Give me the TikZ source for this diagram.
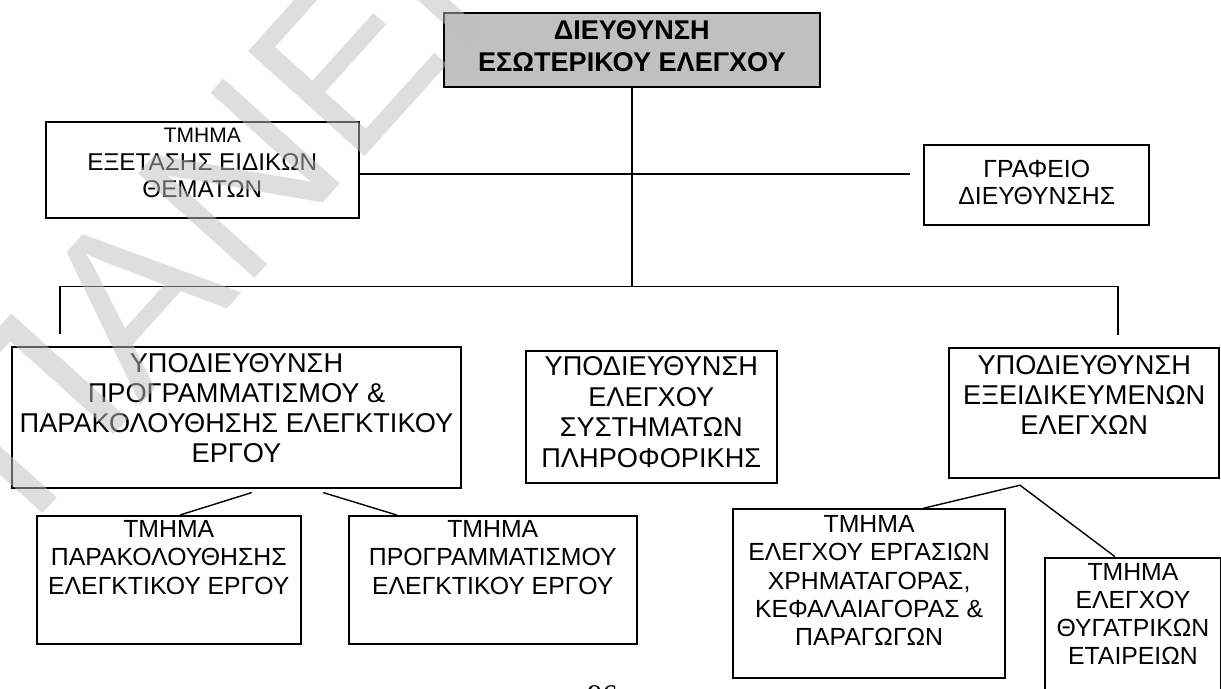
\documentclass[tikz,border=0pt]{standalone}
\usepackage{fontspec}
\setmainfont{Liberation Sans}
\newfontfamily\pagenumfont{Liberation Serif}
\usetikzlibrary{calc}

\definecolor{headgray}{RGB}{192,192,192}
\definecolor{wmgray}{RGB}{190,190,190}

% box text: width, height, first baseline from the top, font, lines
\newcommand{\orgtext}[5]{%
  \parbox[t][#2][t]{#1}{#4\centering\rule{0pt}{#3}#5\par}}

\tikzset{
  orgbox/.style={draw=black, line width=1.9bp, inner sep=0pt, anchor=north west},
  link/.style={line width=1.8bp},
  thinlink/.style={line width=1.4bp},
}

\begin{document}
\begin{tikzpicture}[x=1bp,y=-1bp]
\useasboundingbox (0,0) rectangle (1221,689);
\clip (0,0) rectangle (1221,689);
\fill[white] (0,0) rectangle (1221,689);

% head of the unit
\node[orgbox, fill=headgray] (dir) at (442.7,12.3)
  {\orgtext{376.3bp}{73.7bp}{25.9bp}{\bfseries\fontsize{27.1bp}{32bp}\selectfont}%
   {ΔΙΕΥΘΥΝΣΗ\\ΕΣΩΤΕΡΙΚΟΥ ΕΛΕΓΧΟΥ}};

% staff units
\node[orgbox] (tee) at (45,120.7)
  {\orgtext{312.7bp}{96.6bp}{21bp}{\fontsize{24.3bp}{27.5bp}\selectfont}%
   {{\fontsize{21bp}{24bp}\selectfont ΤΜΗΜΑ}\\ΕΞΕΤΑΣΗΣ ΕΙΔΙΚΩΝ\\ΘΕΜΑΤΩΝ}};
\node[orgbox] (graf) at (923.3,144)
  {\orgtext{225bp}{80bp}{32.7bp}{\fontsize{24.8bp}{27.3bp}\selectfont}%
   {ΓΡΑΦΕΙΟ\\ΔΙΕΥΘΥΝΣΗΣ}};

% sub-directorates
\node[orgbox] (subA) at (11,346)
  {\orgtext{449bp}{140.7bp}{25.7bp}{\fontsize{27.2bp}{30bp}\selectfont}%
   {ΥΠΟΔΙΕΥΘΥΝΣΗ\\ΠΡΟΓΡΑΜΜΑΤΙΣΜΟΥ \&\\ΠΑΡΑΚΟΛΟΥΘΗΣΗΣ ΕΛΕΓΚΤΙΚΟΥ\\ΕΡΓΟΥ}};
\node[orgbox] (subB) at (525,350)
  {\orgtext{250.7bp}{131.7bp}{25bp}{\fontsize{27.2bp}{30.5bp}\selectfont}%
   {ΥΠΟΔΙΕΥΘΥΝΣΗ\\ΕΛΕΓΧΟΥ\\ΣΥΣΤΗΜΑΤΩΝ\\ΠΛΗΡΟΦΟΡΙΚΗΣ}};
\node[orgbox] (subC) at (948.3,347.3)
  {\orgtext{270bp}{130bp}{26bp}{\fontsize{27.2bp}{30bp}\selectfont}%
   {ΥΠΟΔΙΕΥΘΥΝΣΗ\\\makebox[\linewidth]{ΕΞΕΙΔΙΚΕΥΜΕΝΩΝ}\\ΕΛΕΓΧΩΝ}};

% departments
\node[orgbox] (tpar) at (35.7,515)
  {\orgtext{264.3bp}{127.7bp}{21.7bp}{\fontsize{24.8bp}{28.3bp}\selectfont}%
   {ΤΜΗΜΑ\\ΠΑΡΑΚΟΛΟΥΘΗΣΗΣ\\ΕΛΕΓΚΤΙΚΟΥ ΕΡΓΟΥ}};
\node[orgbox] (tprog) at (347.7,515)
  {\orgtext{288.3bp}{127.7bp}{21.7bp}{\fontsize{24.8bp}{28.3bp}\selectfont}%
   {ΤΜΗΜΑ\\ΠΡΟΓΡΑΜΜΑΤΙΣΜΟΥ\\ΕΛΕΓΚΤΙΚΟΥ ΕΡΓΟΥ}};
\node[orgbox] (texch) at (732.3,508.3)
  {\orgtext{271.7bp}{168.4bp}{23.4bp}{\fontsize{24.8bp}{28.3bp}\selectfont}%
   {ΤΜΗΜΑ\\ΕΛΕΓΧΟΥ ΕΡΓΑΣΙΩΝ\\ΧΡΗΜΑΤΑΓΟΡΑΣ,\\ΚΕΦΑΛΑΙΑΓΟΡΑΣ \&\\ΠΑΡΑΓΩΓΩΝ}};
\node[orgbox] (tsub) at (1044,556.7)
  {\orgtext{176bp}{150bp}{23.3bp}{\fontsize{24.8bp}{28bp}\selectfont}%
   {ΤΜΗΜΑ\\ΕΛΕΓΧΟΥ\\ΘΥΓΑΤΡΙΚΩΝ\\ΕΤΑΙΡΕΙΩΝ}};

% connectors
\coordinate (hl) at (0,174.3);
\coordinate (grafgap) at ([xshift=-13.3bp]graf.west);
\draw[link] (tee.east |- hl) -- (grafgap |- hl);

\coordinate (busY) at (0,286.5);
\draw[link] (dir.south) -- ([yshift=-0.8bp]dir.south |- busY);
\coordinate (dropL) at ([shift={(49bp,12bp)}]subA.north west);
\coordinate (dropR) at ([shift={(-102.6bp,12.7bp)}]subC.north east);
\draw[link] (dropL) -- (dropL |- busY) -- (dropR |- busY) -- (dropR);

\draw[thinlink] ($(subA.south west)+(240.7,4)$) -- ($(tpar.north west)+(144.3,0)$);
\draw[thinlink] ($(subA.south west)+(312.3,4)$) -- ($(tprog.north west)+(49,0)$);
\draw[thinlink] ($(subC.south west)+(71.7,6)$) -- ($(texch.north west)+(191,0)$);
\draw[thinlink] ($(subC.south west)+(71.7,6)$) -- ($(tsub.north west)+(71,0)$);

% page number
\node[anchor=base, inner sep=0pt, font=\pagenumfont\fontsize{30bp}{30bp}\selectfont] (pg) at (602.3,705.3) {96};

% watermark
\node[rotate=48, anchor=base west, inner sep=0pt, text=wmgray, opacity=0.5,
      font=\fontsize{228bp}{228bp}\selectfont] (wm) at (30,528) {ΠΑΝΕΠ};
\end{tikzpicture}
\end{document}
